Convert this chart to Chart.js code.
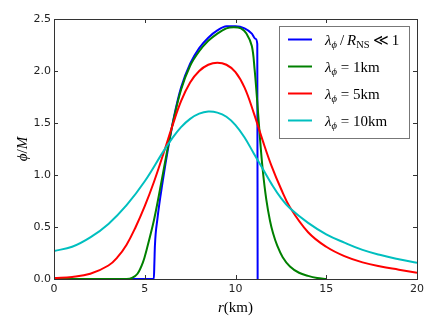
<!DOCTYPE html>
<html lang="en">
<head>
<meta charset="UTF-8">
<title>Scalar field profiles</title>
<script src="https://cdn.jsdelivr.net/npm/chart.js"></script>
<style>
  html, body { margin: 0; padding: 0; background: #fff; }
</style>
</head>
<body>
<canvas id="phiChart" width="436" height="329"></canvas>
<script>
// r in km, phi/M
const blueR = [0, 5.5, 5.53, 5.56, 5.7, 6.0, 6.3, 6.6, 7.0, 7.5, 8.0, 8.5, 9.0, 9.5, 10.0, 10.5, 10.9, 11.1, 11.2, 11.22];
const blueV = [0, 0, 0.15, 0.32, 0.58, 0.95, 1.27, 1.55, 1.84, 2.07, 2.22, 2.32, 2.39, 2.43, 2.43, 2.41, 2.36, 2.31, 2.26, 0];

const greenR = [0, 4.0, 4.3, 4.6, 4.9, 5.1, 5.5, 5.84, 6.2, 6.56, 7.0, 7.5, 8.0, 8.5, 9.0, 9.5, 9.9, 10.3, 10.6, 10.9, 11.05, 11.2, 11.35, 11.5, 11.7, 11.9, 12.07, 12.3, 12.6, 13.0, 13.5, 14.0, 14.5, 15.0];
const greenV = [0, 0, 0.01, 0.05, 0.16, 0.28, 0.56, 0.86, 1.20, 1.51, 1.82, 2.05, 2.19, 2.29, 2.36, 2.41, 2.42, 2.41, 2.36, 2.24, 2.02, 1.70, 1.35, 1.05, 0.76, 0.56, 0.44, 0.32, 0.21, 0.12, 0.06, 0.03, 0.01, 0];

const redR = [0, 1, 2, 3, 3.5, 4, 4.5, 5, 5.5, 6, 6.5, 7, 7.5, 8, 8.5, 9, 9.5, 10, 10.5, 11, 11.5, 12, 12.5, 13, 14, 15, 16, 17, 18, 19, 20];
const redV = [0.01, 0.02, 0.05, 0.13, 0.21, 0.33, 0.50, 0.70, 0.93, 1.19, 1.46, 1.71, 1.89, 2.00, 2.06, 2.08, 2.06, 1.99, 1.84, 1.60, 1.33, 1.08, 0.87, 0.69, 0.45, 0.31, 0.22, 0.16, 0.12, 0.09, 0.06];

const cyanR = [0, 1, 2, 3, 4, 5, 6, 6.5, 7, 7.5, 8, 8.5, 9, 9.5, 10, 10.5, 11, 11.5, 12, 12.5, 13, 14, 15, 16, 17, 18, 19, 20];
const cyanV = [0.27, 0.31, 0.40, 0.53, 0.71, 0.94, 1.22, 1.35, 1.46, 1.54, 1.59, 1.61, 1.60, 1.56, 1.48, 1.36, 1.21, 1.06, 0.91, 0.78, 0.68, 0.54, 0.43, 0.35, 0.28, 0.23, 0.19, 0.155];

const xTicks = [0, 5, 10, 15, 20];
const yTicks = [0, 0.5, 1.0, 1.5, 2.0, 2.5];

const seriesColors = ['#0000ff', '#008000', '#ff0000', '#00bfbf'];

function pts(rs, vs) {
    return rs.map((r, i) => ({ x: r, y: vs[i] }));
}

const SERIF = '"Liberation Serif", "DejaVu Serif", serif';

// legend text pieces: it = italic, sub = subscript
const legendRuns = [
    [{ t: 'λ', it: 1 }, { t: 'ϕ', it: 1, sub: 1 }, { t: '\u2009/\u2009' }, { t: 'R', it: 1 }, { t: 'NS', sub: 1 }, { t: '\u2009≪\u20091' }],
    [{ t: 'λ', it: 1 }, { t: 'ϕ', it: 1, sub: 1 }, { t: ' = 1km' }],
    [{ t: 'λ', it: 1 }, { t: 'ϕ', it: 1, sub: 1 }, { t: ' = 5km' }],
    [{ t: 'λ', it: 1 }, { t: 'ϕ', it: 1, sub: 1 }, { t: ' = 10km' }]
];

function drawRuns(ctx, x, y, runs, size) {
    for (const r of runs) {
        const s = r.sub ? size * 0.7 : size;
        ctx.font = (r.it ? 'italic ' : '') + s + 'px ' + SERIF;
        ctx.fillText(r.t, x, r.sub ? y + 3.5 : y);
        x += ctx.measureText(r.t).width;
    }
    return x;
}

function runsWidth(ctx, runs, size) {
    let w = 0;
    for (const r of runs) {
        const s = r.sub ? size * 0.7 : size;
        ctx.font = (r.it ? 'italic ' : '') + s + 'px ' + SERIF;
        w += ctx.measureText(r.t).width;
    }
    return w;
}

const framePlugin = {
    id: 'frame',
    afterDraw(chart) {
        const ctx = chart.ctx;
        const a = chart.chartArea;
        const xs = chart.scales.x, ys = chart.scales.y;
        ctx.save();
        ctx.strokeStyle = '#333';
        ctx.lineWidth = 1;
        // inward ticks on all four sides
        ctx.beginPath();
        xTicks.forEach(v => {
            const px = Math.round(xs.getPixelForValue(v)) + 0.5;
            ctx.moveTo(px, a.bottom); ctx.lineTo(px, a.bottom - 4);
            ctx.moveTo(px, a.top); ctx.lineTo(px, a.top + 4);
        });
        yTicks.forEach(v => {
            const py = Math.round(ys.getPixelForValue(v)) + 0.5;
            ctx.moveTo(a.left, py); ctx.lineTo(a.left + 4, py);
            ctx.moveTo(a.right, py); ctx.lineTo(a.right - 4, py);
        });
        ctx.stroke();

        // legend
        const lx = 279.5, ly = 26.5, lw = 130, lh = 112;
        ctx.fillStyle = '#fff';
        ctx.fillRect(lx, ly, lw, lh);
        ctx.strokeStyle = '#777';
        ctx.strokeRect(lx, ly, lw, lh);
        legendRuns.forEach((runs, i) => {
            const cy = 39.5 + i * 27;
            ctx.strokeStyle = seriesColors[i];
            ctx.lineWidth = 2;
            ctx.beginPath();
            ctx.moveTo(288, cy); ctx.lineTo(312, cy);
            ctx.stroke();
            ctx.fillStyle = '#000';
            ctx.textBaseline = 'alphabetic';
            drawRuns(ctx, 325, cy + 5, runs, 15);
        });

        // frame
        ctx.strokeStyle = '#333';
        ctx.lineWidth = 1;
        ctx.strokeRect(a.left + 0.5, a.top + 0.5, a.right - a.left, a.bottom - a.top);

        // axis titles
        ctx.fillStyle = '#000';
        const xt = [{ t: 'r', it: 1 }, { t: '(km)' }];
        const xw = runsWidth(ctx, xt, 15);
        drawRuns(ctx, (a.left + a.right) / 2 - xw / 2, 312, xt, 15);

        const yt = [{ t: 'ϕ', it: 1 }, { t: '/' }, { t: 'M', it: 1 }];
        const yw = runsWidth(ctx, yt, 15);
        ctx.translate(27, (a.top + a.bottom) / 2);
        ctx.rotate(-Math.PI / 2);
        drawRuns(ctx, -yw / 2, 0, yt, 15);
        ctx.restore();
    }
};

const tickFont = { family: '"DejaVu Sans", sans-serif', size: 11 };

new Chart(document.getElementById('phiChart').getContext('2d'), {
    type: 'line',
    data: {
        datasets: [
            { data: pts(blueR, blueV), borderColor: seriesColors[0], order: 4, cubicInterpolationMode: 'monotone' },
            { data: pts(greenR, greenV), borderColor: seriesColors[1], order: 3, tension: 0.35 },
            { data: pts(redR, redV), borderColor: seriesColors[2], order: 2, tension: 0.4 },
            { data: pts(cyanR, cyanV), borderColor: seriesColors[3], order: 1, tension: 0.4 }
        ]
    },
    options: {
        responsive: false,
        animation: false,
        datasets: {
            line: {
                borderWidth: 2,
                pointRadius: 0,
                fill: false,
                clip: 0
            }
        },
        layout: { padding: { top: 19, right: 19, left: 0, bottom: 0 } },
        plugins: { legend: { display: false }, tooltip: { enabled: false } },
        scales: {
            x: {
                type: 'linear',
                min: 0, max: 20,
                afterBuildTicks: s => { s.ticks = xTicks.map(v => ({ value: v })); },
                afterFit: s => { s.height = 50; },
                grid: { display: false, drawTicks: false },
                border: { display: false },
                ticks: { font: tickFont, color: '#222', padding: 4, maxRotation: 0, callback: v => String(v) }
            },
            y: {
                min: 0, max: 2.5,
                afterBuildTicks: s => { s.ticks = yTicks.map(v => ({ value: v })); },
                afterFit: s => { s.width = 54; },
                grid: { display: false, drawTicks: false },
                border: { display: false },
                ticks: { font: tickFont, color: '#222', padding: 3, callback: v => v.toFixed(1) }
            }
        }
    },
    plugins: [framePlugin]
});
</script>
</body>
</html>
